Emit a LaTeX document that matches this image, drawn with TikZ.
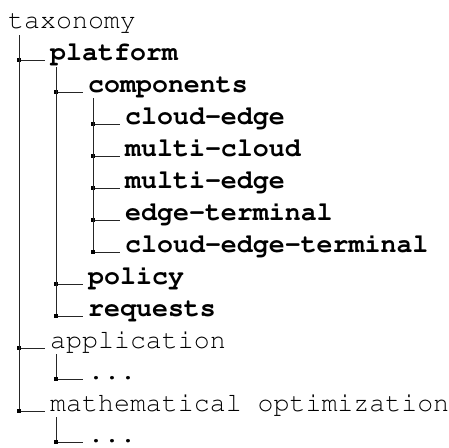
\documentclass[tikz,border=0pt]{standalone}
\usepackage[T1]{fontenc}
\usepackage{courier}
\begin{document}
\begin{tikzpicture}[x=1pt,y=-1pt,
  lbl/.style={anchor=base west,inner sep=0pt,font=\ttfamily\fontsize{26.6}{27}\selectfont},
  blbl/.style={lbl,font=\ttfamily\bfseries\fontsize{26.6}{27}\selectfont},
  conn/.style={draw=black!85,line width=1pt},
  mk/.style={fill=black,minimum size=4.5pt,inner sep=0pt,draw=none,rectangle}]
\useasboundingbox (0,0) rectangle (449,447);
% nodes
\node[lbl]  (tax) at (8,28) {taxonomy};
\node[blbl] (plat) at (50,60) {platform};
\node[blbl] (comp) at (88,92) {components};
\node[blbl] (ce) at (125,124) {cloud-edge};
\node[blbl] (mc) at (125,156) {multi-cloud};
\node[blbl] (me) at (125,188) {multi-edge};
\node[blbl] (et) at (125,220) {edge-terminal};
\node[blbl] (cet) at (125,252) {cloud-edge-terminal};
\node[blbl] (pol) at (88,284) {policy};
\node[blbl] (req) at (88,316) {requests};
\node[lbl]  (app) at (50,348) {application};
\node[lbl]  (appd) at (88,379) {...};
\node[lbl]  (math) at (50,411) {mathematical optimization};
\node[lbl]  (mathd) at (88,442) {...};
% vertical line starts
\coordinate (v0) at (19,35);
\coordinate (v1) at (56,67);
\coordinate (v2) at (93,98);
\coordinate (v3) at (56,354);
\coordinate (v4) at (56,417);
% connectors
\foreach \c in {plat,app,math}
  \draw[conn] (v0) |- ([xshift=-5pt]\c.base west) node[mk,pos=0.5] {};
\foreach \c in {comp,pol,req}
  \draw[conn] (v1) |- ([xshift=-5pt]\c.base west) node[mk,pos=0.5] {};
\foreach \c in {ce,mc,me,et,cet}
  \draw[conn] (v2) |- ([xshift=-5pt]\c.base west) node[mk,pos=0.5] {};
\draw[conn] (v3) |- ([xshift=-5pt]appd.base west) node[mk,pos=0.5] {};
\draw[conn] (v4) |- ([xshift=-5pt]mathd.base west) node[mk,pos=0.5] {};
\end{tikzpicture}
\end{document}
